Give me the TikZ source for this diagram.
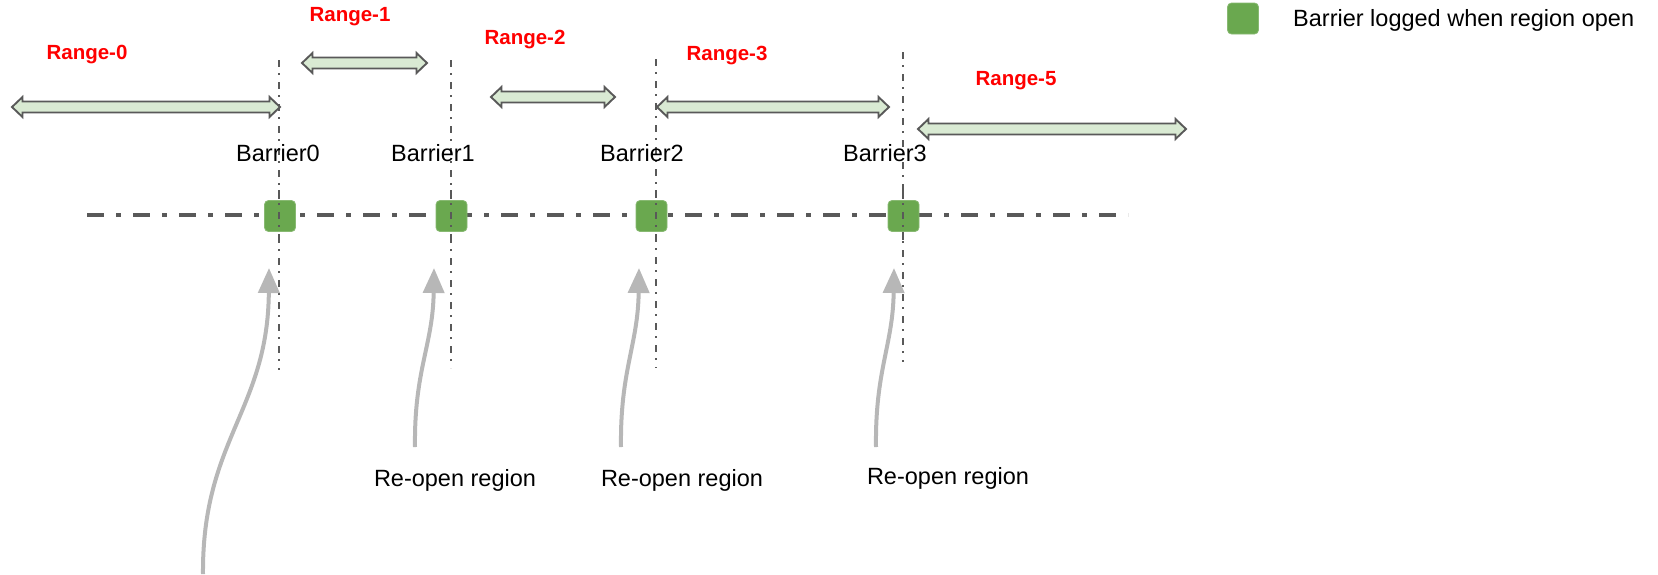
\documentclass[tikz,border=0pt]{standalone}
\usepackage{fontspec}
\setmainfont{Liberation Sans}
\usetikzlibrary{arrows.meta}
\definecolor{barriergreen}{HTML}{6AA84F}
\definecolor{rangefill}{HTML}{D9EAD3}
\definecolor{rangeedge}{HTML}{595959}
\definecolor{axisgray}{HTML}{595959}
\definecolor{pointergray}{HTML}{B7B7B7}
\definecolor{labelred}{HTML}{FF0000}
\tikzset{
  barrierbox/.style={fill=barriergreen, draw=barriergreen!80!white, line width=0.8pt,
    rounded corners=4pt, minimum width=31pt, minimum height=31pt, inner sep=0pt},
  timeline/.style={draw=axisgray, line width=4.6pt, line cap=butt,
    dash pattern=on 17pt off 12pt on 5pt off 12pt},
  barrierline/.style={draw=axisgray, line width=1.8pt, line cap=butt,
    dash pattern=on 7pt off 6pt on 2pt off 7pt},
  rangelabel/.style={text=labelred, font=\bfseries\fontsize{20.5}{24}\selectfont, inner sep=0pt},
  plainlabel/.style={font=\fontsize{23.5}{28}\selectfont, inner sep=0pt},
  rangebar/.style={fill=rangefill, draw=rangeedge, line width=1.9pt, line join=miter},
  pointer/.style={draw=pointergray, line width=4pt,
    -{Triangle[length=25pt, width=21pt]}},
}
% horizontal double-headed block arrow between #1 and #2 at height #3
\newcommand{\rangespan}[3]{%
  \path[rangebar] (#1,#3) -- ++(10.5,-10) -- ++(0,4.5) -- (#2-10.5,#3-5.5) -- ++(0,-4.5)
    -- (#2,#3) -- ++(-10.5,10) -- ++(0,-4.5) -- (#1+10.5,#3+5.5) -- ++(0,4.5) -- cycle;}
\begin{document}
\begin{tikzpicture}[x=1pt,y=-1pt]
  \useasboundingbox (0,0) rectangle (1658,574);

  % legend
  \node[barrierbox] (legbox) at (1243,18.5) {};
  \node[plainlabel, anchor=west] (legtext) at (1293,20) {Barrier logged when region open};

  % timeline
  \coordinate (tlstart) at (87,215);
  \coordinate (tlend) at (1128,215);
  \draw[timeline] (tlstart) -- (tlend);

  % barrier boundaries
  \coordinate (b0top) at (279,60);  \coordinate (b0bot) at (279,370);
  \coordinate (b1top) at (451,60);  \coordinate (b1bot) at (451,368);
  \coordinate (b2top) at (656,59);  \coordinate (b2bot) at (656,368);
  \coordinate (b3top) at (903,52);  \coordinate (b3bot) at (903,362);
  \draw[barrierline] (b0top) -- (b0bot);
  \draw[barrierline] (b1top) -- (b1bot);
  \draw[barrierline] (b2top) -- (b2bot);
  \draw[barrierline] (b3top) -- (b3bot);

  % barrier markers on the timeline
  \node[barrierbox] (sq0) at (280,216) {};
  \node[barrierbox] (sq1) at (451.5,216) {};
  \node[barrierbox] (sq2) at (651.5,216) {};
  \node[barrierbox] (sq3) at (903.5,216) {};
  \draw[barrierline] (279,190) -- (279,240);
  \draw[barrierline] (451,190) -- (451,240);
  \draw[barrierline] (656,190) -- (656,240);
  \draw[barrierline] (903,190) -- (903,240);

  % barrier names
  \node[plainlabel] (bl0) at (278,153) {Barrier0};
  \node[plainlabel] (bl1) at (433,153) {Barrier1};
  \node[plainlabel] (bl2) at (642,153) {Barrier2};
  \node[plainlabel] (bl3) at (885,153) {Barrier3};

  % ranges
  \rangespan{12}{280}{107}
  \rangespan{302}{427}{63}
  \rangespan{491}{615}{97}
  \rangespan{657}{889}{107}
  \rangespan{918}{1186}{129}
  \node[rangelabel] (r0) at (87,55) {Range-0};
  \node[rangelabel] (r1) at (350,17) {Range-1};
  \node[rangelabel] (r2) at (525,40) {Range-2};
  \node[rangelabel] (r3) at (727,56) {Range-3};
  \node[rangelabel] (r5) at (1016,81) {Range-5};

  % re-open labels and pointers
  \node[plainlabel] (ro1) at (455,480) {Re-open region};
  \node[plainlabel] (ro2) at (682,480) {Re-open region};
  \node[plainlabel] (ro3) at (948,478) {Re-open region};

  \coordinate (p0s) at (203,574);
  \coordinate (p0e) at (269,268);
  \coordinate (p1s) at (415,447);
  \coordinate (p1e) at (434,268);
  \coordinate (p2s) at (621,447);
  \coordinate (p2e) at (639,268);
  \coordinate (p3s) at (876,447);
  \coordinate (p3e) at (894,268);
  \draw[pointer] (p0s) .. controls (202,440) and (268,410) .. (p0e);
  \draw[pointer] (p1s) .. controls (414,370) and (433,345) .. (p1e);
  \draw[pointer] (p2s) .. controls (620,370) and (638,345) .. (p2e);
  \draw[pointer] (p3s) .. controls (875,370) and (893,345) .. (p3e);
\end{tikzpicture}
\end{document}
